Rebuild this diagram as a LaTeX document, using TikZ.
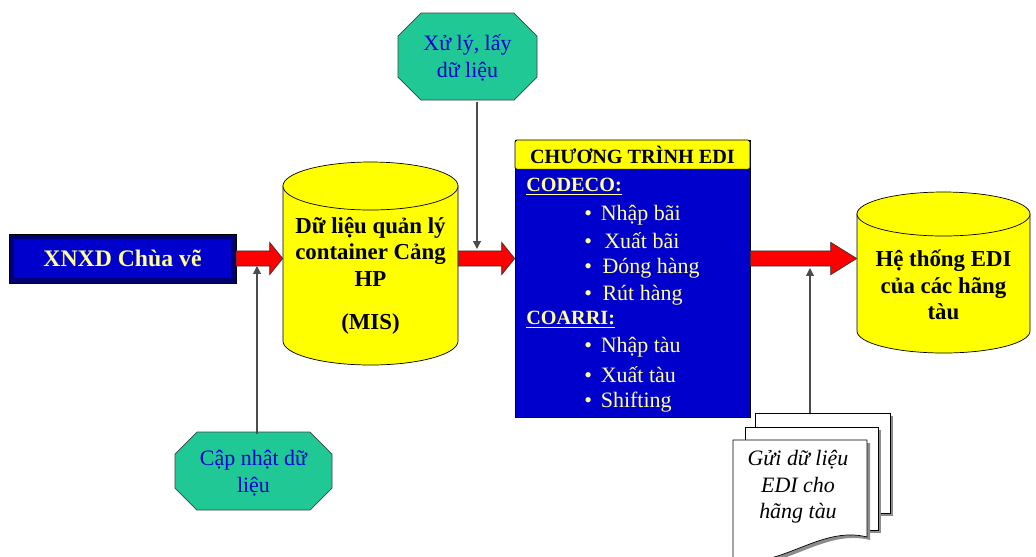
\documentclass[tikz,border=0pt]{standalone}
\usepackage{fontspec}
\setmainfont{Liberation Serif}
\usetikzlibrary{calc,arrows.meta}

\definecolor{boxblue}{RGB}{0,0,204}
\definecolor{navyedge}{RGB}{0,0,110}
\definecolor{paleyellow}{RGB}{255,255,150}
\definecolor{drumyellow}{RGB}{255,255,0}
\definecolor{octgreen}{RGB}{32,200,150}
\definecolor{octblue}{RGB}{0,0,210}
\definecolor{arrowred}{RGB}{255,0,0}

% database drum: x centre, top y, bottom y, x radius, y radius
\newcommand{\drum}[5]{%
  \filldraw[drum] (#1-#4,#2) -- (#1-#4,#3) arc (180:0:#4 and #5) -- (#1+#4,#2) -- cycle;
  \filldraw[drum] (#1,#2) ellipse (#4 and #5);}

% octagon: x centre, y centre, half width, half height, cut
\newcommand{\octagon}[5]{%
  \filldraw[octfill] (#1-#3+#5,#2-#4) -- (#1+#3-#5,#2-#4) -- (#1+#3,#2-#4+#5)
    -- (#1+#3,#2+#4-#5) -- (#1+#3-#5,#2+#4) -- (#1-#3+#5,#2+#4)
    -- (#1-#3,#2+#4-#5) -- (#1-#3,#2-#4+#5) -- cycle;}

% fat red arrow: from, to, head length
\newcommand{\fatarrow}[3]{%
  \filldraw[fatarrow] let \p1=(#1), \p2=(#2) in
    (\x1,\y1+4.3pt) -- (\x2-#3,\y1+4.3pt) -- (\x2-#3,\y1+9.2pt) -- (\x2,\y1)
    -- (\x2-#3,\y1-9.2pt) -- (\x2-#3,\y1-4.3pt) -- (\x1,\y1-4.3pt) -- cycle;}

\tikzset{
  xnxdbox/.style={draw=navyedge, line width=3pt, fill=boxblue, minimum width=4.44cm,
    minimum height=0.88cm, text=paleyellow, font=\fontsize{13.5}{15}\selectfont\bfseries},
  drum/.style={draw=black, thin, fill=drumyellow},
  drumtext/.style={align=center, font=\fontsize{13}{15}\selectfont\bfseries},
  edibox/.style={draw=black, fill=boxblue, minimum width=4.7cm, minimum height=5.54cm},
  editop/.style={draw=black, fill=drumyellow, minimum width=4.7cm, minimum height=0.56cm,
    rounded corners=1pt, font=\fontsize{11.5}{13}\selectfont\bfseries},
  edihead/.style={text=paleyellow, font=\fontsize{11.5}{14}\selectfont\bfseries, inner sep=0pt},
  ediitem/.style={text=paleyellow, font=\fontsize{12.5}{14}\selectfont, inner sep=0pt},
  octfill/.style={draw=black!75, fill=octgreen},
  octa/.style={inner sep=0pt, text=octblue, align=center, font=\fontsize{12.5}{15}\selectfont},
  fatarrow/.style={draw=black!80, thin, fill=arrowred},
  thinarrow/.style={draw=black!70, line width=0.6pt, -{Triangle[length=4.5pt,width=4.5pt]}},
  page/.style={draw=black, thin, fill=white},
  pageshadow/.style={fill=black!45},
}

\begin{document}
\begin{tikzpicture}[x=0.02cm, y=-0.02cm]
\useasboundingbox (0,0) rectangle (1036,556);

% source
\node[xnxdbox] (xnxd) at (122.5,258.5) {XNXD Chùa vẽ};
\draw[black, thin] (xnxd.south west) rectangle (xnxd.north east);

% port database
\drum{370.5}{186}{341}{87.5}{24}
\node[drumtext, minimum width=3.5cm] (mis) at (370.5,276)
  {Dữ liệu quản lý\\ container Cảng\\ HP\\[10pt] (MIS)};

% EDI program
\node[edibox] (edi) at (632.5,278.5) {};
\node[editop, anchor=north] (editit) at (edi.north) {CHƯƠNG TRÌNH EDI};
\node[edihead, anchor=west] (codeco) at (526,187) {\underline{CODECO:}};
\node[ediitem, anchor=west] (nhapbai) at (584,215) {\textbullet\hspace{5pt}Nhập bãi};
\node[ediitem, anchor=west] (xuatbai) at (584,241) {\textbullet\hspace{7pt}Xuất bãi};
\node[ediitem, anchor=west] (donghang) at (584,268) {\textbullet\hspace{6pt}Đóng hàng};
\node[ediitem, anchor=west] (ruthang) at (584,295) {\textbullet\hspace{6pt}Rút hàng};
\node[edihead, anchor=west] (coarri) at (526,320) {\underline{COARRI:}};
\node[ediitem, anchor=west] (nhaptau) at (584,347) {\textbullet\hspace{5pt}Nhập tàu};
\node[ediitem, anchor=west] (xuattau) at (584,375) {\textbullet\hspace{5pt}Xuất tàu};
\node[ediitem, anchor=west] (shifting) at (584,402) {\textbullet\hspace{5pt}Shifting};

% shipping lines
\drum{943.5}{214}{331}{86.5}{22}
\node[drumtext, minimum width=3.46cm] (ht) at (943.5,285) {Hệ thống EDI\\ của các hãng\\ tàu};

% main flow
\fatarrow{xnxd.east}{mis.west}{7.4pt}
\fatarrow{mis.east |- xnxd.east}{edi.west}{7.4pt}
\fatarrow{edi.east |- xnxd.east}{ht.west}{14.8pt}

% processing steps
\octagon{467.5}{56.5}{69.5}{43.5}{23}
\node[octa, minimum width=2.78cm, minimum height=1.74cm] (xuly) at (467.5,58) {Xử lý, lấy\\ dữ liệu};
\octagon{253.5}{471}{78.5}{39}{22}
\node[octa, minimum width=3.14cm, minimum height=1.56cm] (capnhat) at (253.5,473) {Cập nhật dữ\\ liệu};

% document stack
\fill[pageshadow] (758,416) rectangle (893,516);
\filldraw[page] (755,413) rectangle (890,513);
\fill[pageshadow] (748,430) rectangle (881,533);
\filldraw[page] (745,427) rectangle (878,530);
\fill[pageshadow, shift={(3,3)}] (733,440) -- (867,440) -- (867,537)
  .. controls (820,525) and (780,570) .. (733,560) -- cycle;
\filldraw[page] (733,440) -- (867,440) -- (867,537)
  .. controls (820,525) and (780,570) .. (733,560) -- cycle;
\node[align=center, font=\fontsize{12.5}{15}\selectfont\itshape] (guidl) at (798,487)
  {Gửi dữ liệu\\ EDI cho\\ hãng tàu};
\coordinate (doctop) at (810,413);

% side inputs
\coordinate (upd) at (257,266);
\coordinate (get) at (477,249);
\coordinate (send) at (810,268);
\draw[thinarrow] (capnhat.north -| upd) -- (upd);
\draw[thinarrow] (xuly.south -| get) -- (get);
\draw[thinarrow] (doctop) -- (send);
\end{tikzpicture}
\end{document}
